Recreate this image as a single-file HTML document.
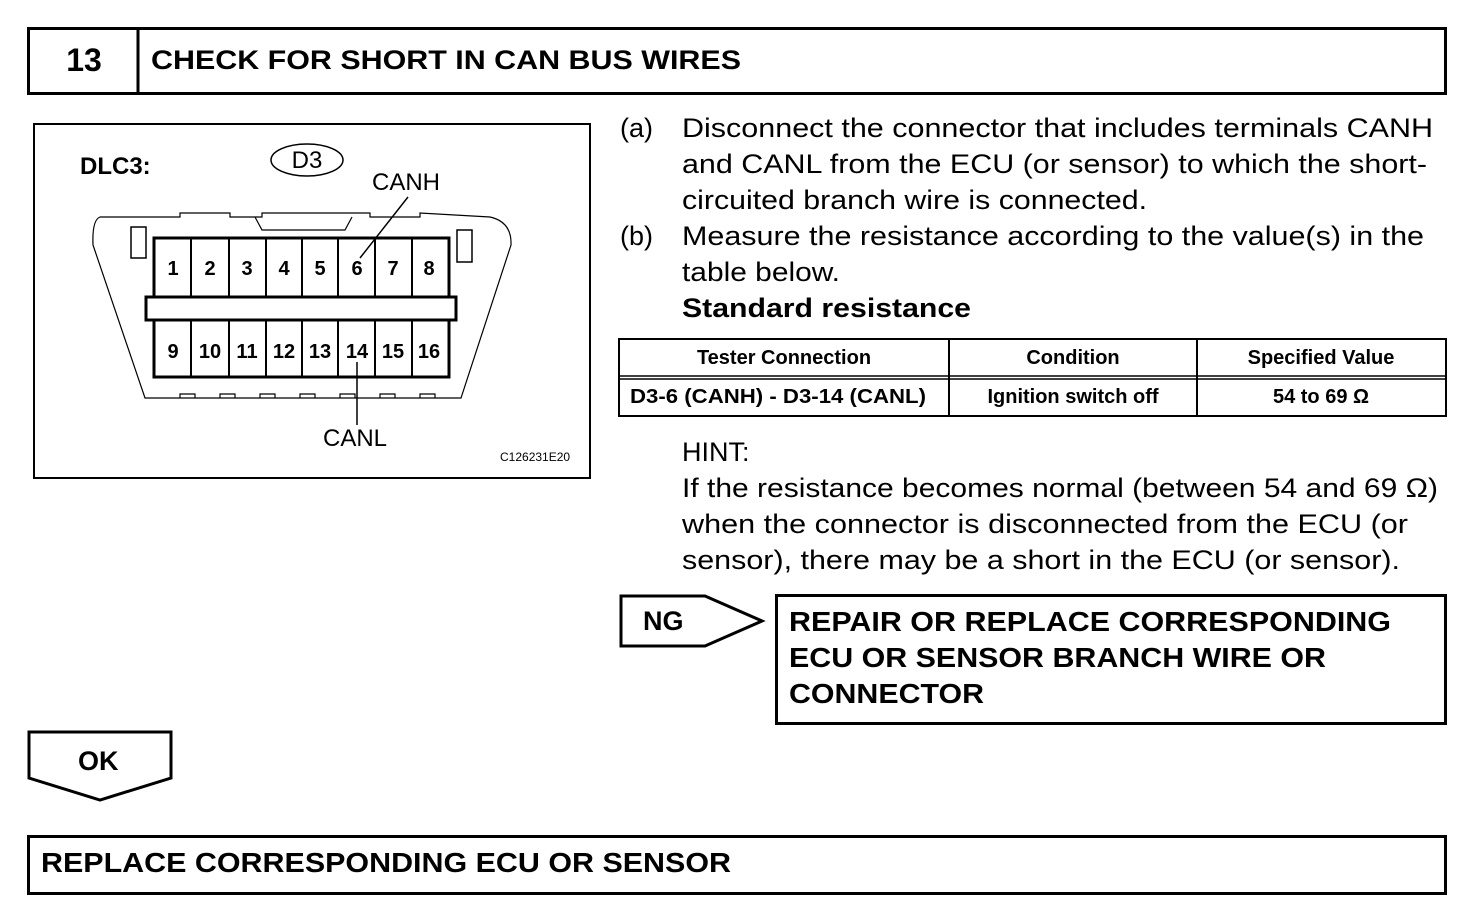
<!DOCTYPE html>
<html><head><meta charset="utf-8"><style>
html,body{margin:0;padding:0;background:#fff;}
svg{display:block;font-family:"Liberation Sans",Arial,sans-serif;}
</style></head><body>
<svg width="1472" height="920" viewBox="0 0 1472 920" xmlns="http://www.w3.org/2000/svg">
<g fill="none" stroke="#000">
<rect x="28.5" y="28.5" width="1417" height="65" stroke-width="3"/>
<line x1="138" y1="28" x2="138" y2="94" stroke-width="3"/>
<rect x="34" y="124" width="556" height="354" stroke-width="2"/>
<path d="M100,217 L180,217 L180,213 L230,213 L230,217 L262,217 L262,213 L370,213 L370,217 L420,217 L420,213 L490,217 Q512,222 511,245 L461,398 L145,398 L93,245 Q92,220 100,217 Z" stroke-width="1.2"/>
<path d="M255,217 L262,230 L345,230 L352,217" stroke-width="1.2"/>
<path d="M180,398 L180,394 L195,394 L195,398 M220,398 L220,394 L235,394 L235,398 M260,398 L260,394 L275,394 L275,398 M300,398 L300,394 L315,394 L315,398 M340,398 L340,394 L355,394 L355,398 M380,398 L380,394 L395,394 L395,398 M420,398 L420,394 L435,394 L435,398" stroke-width="1.2"/>
<rect x="131" y="227" width="15" height="31" stroke-width="1.5"/>
<rect x="457" y="230" width="15" height="32" stroke-width="1.5"/>
<rect x="154" y="238" width="295" height="139" stroke-width="3"/>
<rect x="146" y="297" width="310" height="23" stroke-width="3" fill="#fff"/>
<path d="M191,238V297M229,238V297M266,238V297M302,238V297M338,238V297M375,238V297M412,238V297" stroke-width="2"/>
<path d="M191,320V377M229,320V377M266,320V377M302,320V377M338,320V377M375,320V377M412,320V377" stroke-width="2"/>
<ellipse cx="307" cy="160" rx="36" ry="16" stroke-width="1.5"/>
<line x1="408" y1="197" x2="360" y2="258" stroke-width="1.5"/>
<line x1="357" y1="362" x2="357" y2="425" stroke-width="1.5"/>
<rect x="619" y="339" width="827" height="77" stroke-width="2"/>
<line x1="619" y1="376" x2="1446" y2="376" stroke-width="1.5"/>
<line x1="619" y1="379" x2="1446" y2="379" stroke-width="1.5"/>
<line x1="949" y1="339" x2="949" y2="416" stroke-width="2"/>
<line x1="1197" y1="339" x2="1197" y2="416" stroke-width="2"/>
<path d="M621,596 L705,596 L762,621 L705,646 L621,646 Z" stroke-width="3"/>
<rect x="776.5" y="595.5" width="669" height="128" stroke-width="3"/>
<path d="M29,732 L171,732 L171,778 L100,800 L29,778 Z" stroke-width="3"/>
<rect x="28.5" y="836.5" width="1417" height="57" stroke-width="3"/>
</g>
<g fill="#000">
<text x="84" y="71" font-size="32" font-weight="bold" text-anchor="middle">13</text>
<text x="151" y="69" font-size="27" font-weight="bold" textLength="590" lengthAdjust="spacingAndGlyphs">CHECK FOR SHORT IN CAN BUS WIRES</text>
<text x="80" y="174" font-size="24" font-weight="bold">DLC3:</text>
<text x="307" y="168" font-size="24" text-anchor="middle">D3</text>
<text x="372" y="190" font-size="24">CANH</text>
<text x="323" y="446" font-size="24">CANL</text>
<text x="500" y="461" font-size="12">C126231E20</text>
<g font-size="20" font-weight="bold" text-anchor="middle">
<text x="173" y="275">1</text><text x="210" y="275">2</text><text x="247" y="275">3</text><text x="284" y="275">4</text><text x="320" y="275">5</text><text x="357" y="275">6</text><text x="393" y="275">7</text><text x="429" y="275">8</text>
<text x="173" y="358">9</text><text x="210" y="358">10</text><text x="247" y="358">11</text><text x="284" y="358">12</text><text x="320" y="358">13</text><text x="357" y="358">14</text><text x="393" y="358">15</text><text x="429" y="358">16</text>
</g>
<g font-size="27">
<text x="620" y="137">(a)</text>
<text x="682" y="137" textLength="751" lengthAdjust="spacingAndGlyphs">Disconnect the connector that includes terminals CANH</text>
<text x="682" y="173" textLength="745" lengthAdjust="spacingAndGlyphs">and CANL from the ECU (or sensor) to which the short-</text>
<text x="682" y="209" textLength="465" lengthAdjust="spacingAndGlyphs">circuited branch wire is connected.</text>
<text x="620" y="245">(b)</text>
<text x="682" y="245" textLength="742" lengthAdjust="spacingAndGlyphs">Measure the resistance according to the value(s) in the</text>
<text x="682" y="281" textLength="158" lengthAdjust="spacingAndGlyphs">table below.</text>
<text x="682" y="317" font-weight="bold" textLength="289" lengthAdjust="spacingAndGlyphs">Standard resistance</text>
<text x="682" y="461">HINT:</text>
<text x="682" y="497" textLength="756" lengthAdjust="spacingAndGlyphs">If the resistance becomes normal (between 54 and 69 Ω)</text>
<text x="682" y="533" textLength="726" lengthAdjust="spacingAndGlyphs">when the connector is disconnected from the ECU (or</text>
<text x="682" y="569" textLength="718" lengthAdjust="spacingAndGlyphs">sensor), there may be a short in the ECU (or sensor).</text>
</g>
<g font-size="20" font-weight="bold" text-anchor="middle">
<text x="784" y="364">Tester Connection</text>
<text x="1073" y="364">Condition</text>
<text x="1321" y="364">Specified Value</text>
<text x="778" y="403" textLength="296" lengthAdjust="spacingAndGlyphs">D3-6 (CANH) - D3-14 (CANL)</text>
<text x="1073" y="403">Ignition switch off</text>
<text x="1321" y="403">54 to 69 Ω</text>
</g>
<text x="643" y="630" font-size="27" font-weight="bold">NG</text>
<g font-size="28" font-weight="bold">
<text x="789" y="631" textLength="602" lengthAdjust="spacingAndGlyphs">REPAIR OR REPLACE CORRESPONDING</text>
<text x="789" y="667" textLength="537" lengthAdjust="spacingAndGlyphs">ECU OR SENSOR BRANCH WIRE OR</text>
<text x="789" y="703" textLength="195" lengthAdjust="spacingAndGlyphs">CONNECTOR</text>
</g>
<text x="78" y="770" font-size="27" font-weight="bold">OK</text>
<text x="41" y="872" font-size="28" font-weight="bold" textLength="690" lengthAdjust="spacingAndGlyphs">REPLACE CORRESPONDING ECU OR SENSOR</text>
</g>
</svg>
</body></html>
